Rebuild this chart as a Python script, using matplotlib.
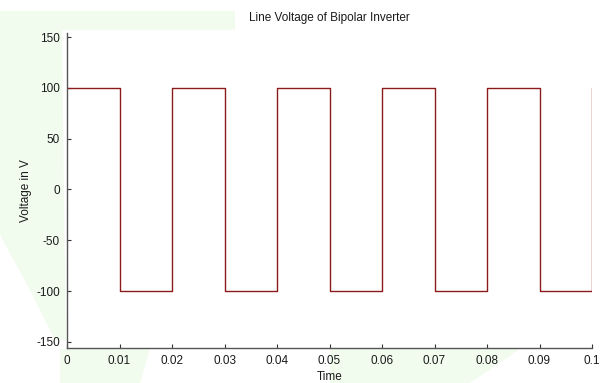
import matplotlib.pyplot as plt
from matplotlib.patches import Polygon

# switching instants of the bipolar inverter (s) and the level held after each one (V)
switch_times = [0.0, 0.01, 0.02, 0.03, 0.04, 0.05, 0.06, 0.07, 0.08, 0.09, 0.1]
levels = [100, -100, 100, -100, 100, -100, 100, -100, 100, -100, 100]

x_ticks = [0, 0.01, 0.02, 0.03, 0.04, 0.05, 0.06, 0.07, 0.08, 0.09, 0.1]
x_tick_labels = ["0", "0.01", "0.02", "0.03", "0.04", "0.05", "0.06", "0.07", "0.08", "0.09", "0.1"]
y_ticks = [-150, -100, -50, 0, 50, 100, 150]

plt.rcParams['font.family'] = ['Liberation Sans', 'DejaVu Sans']
plt.rcParams['font.size'] = 8.5
plt.rcParams['axes.unicode_minus'] = False

fig = plt.figure(figsize=(6.08, 3.83), dpi=100)

# faint green smudge in the background of the original screenshot
green = '#f1fcef'
W, H = 608.0, 383.0
shapes = [
    [(0, 11), (235, 11), (235, 30), (0, 30)],
    [(0, 30), (62, 30), (64, 200), (66, 340), (55, 340), (30, 290), (0, 235)],
    [(60, 349), (150, 349), (140, 383), (60, 383)],
    [(330, 349), (520, 349), (470, 383), (330, 383)],
]
for pts in shapes:
    fig.patches.append(Polygon([(x / W, 1 - y / H) for x, y in pts], closed=True,
                               transform=fig.transFigure, facecolor=green,
                               edgecolor='none', zorder=-10))

ax = fig.add_axes([67 / W, 1 - 348 / H, (592 - 67) / W, (348 - 33) / H])
ax.patch.set_alpha(0)

ax.step(switch_times, levels, where='post', color='#8b1a1a', linewidth=1.0)

ax.set_xlim(0, 0.1)
ax.set_ylim(-156, 154)
ax.set_xticks(x_ticks)
ax.set_xticklabels(x_tick_labels)
ax.set_yticks(y_ticks)

for side in ['top', 'right']:
    ax.spines[side].set_visible(False)
for side in ['left', 'bottom']:
    ax.spines[side].set_color('#555555')
    ax.spines[side].set_linewidth(1.0)
ax.tick_params(direction='in', length=3, width=0.8, color='#333333',
               labelcolor='#1a1a1a', pad=5)

ax.set_title('Line Voltage of Bipolar Inverter', fontsize=8.5, pad=9, color='#1a1a1a')
ax.set_xlabel('Time', labelpad=3, color='#1a1a1a')
ax.set_ylabel('Voltage in V', labelpad=3, color='#1a1a1a')

fig.savefig('out.png', dpi=100)
